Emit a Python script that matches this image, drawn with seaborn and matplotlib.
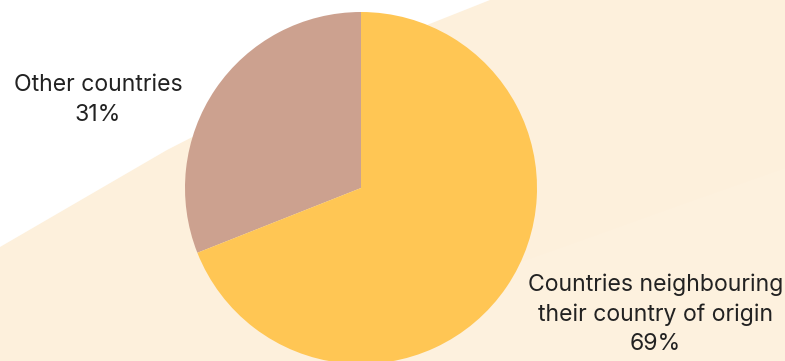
import matplotlib
matplotlib.use("Agg")
import matplotlib.pyplot as plt
from matplotlib.patches import Polygon
import seaborn as sns

# Share of refugees by host-country group
categories = ["Other countries", "Countries neighbouring\ntheir country of origin"]
shares = [31, 69]
colors = ["#CCA18F", "#FFC654"]

sns.set_theme(style="white")
plt.rcParams["font.family"] = ["Inter", "DejaVu Sans"]

W, H = 785, 361
fig = plt.figure(figsize=(W / 100, H / 100), dpi=100)
fig.patch.set_facecolor("white")
ax = fig.add_axes([0, 0, 1, 1])
ax.set_facecolor("white")


def px(x, y):
    """Pixel position (origin top-left) to axes data position."""
    return (x, H - y)


# Decorative cream band behind the chart
band = [px(0, 247), px(167, 150), px(300, 82), px(427, 25), px(490, 0),
        px(W, 0), px(W, H), px(0, H)]
ax.add_patch(Polygon(band, closed=True, facecolor="#FDF0DC", edgecolor="none", zorder=0))
inner = [px(360, H), px(420, 297), px(560, 248), px(680, 205), px(W, 168),
         px(W, H)]
ax.add_patch(Polygon(inner, closed=True, facecolor="#FDF1DE", edgecolor="none", zorder=0))

cx, cy = px(361, 188)
ax.pie(shares, colors=colors, startangle=90, counterclock=True,
       center=(cx, cy), radius=176,
       wedgeprops=dict(linewidth=0, edgecolor="none"), frame=False)

ax.set_xlim(0, W)
ax.set_ylim(0, H)
ax.set_aspect("equal")
ax.axis("off")

text_kw = dict(ha="center", va="center", color="#222222", fontsize=16.6,
               linespacing=1.42, zorder=5)
ax.text(*px(98, 100), f"{categories[0]}\n{shares[0]}%", **text_kw)
ax.text(*px(655.5, 314), f"{categories[1]}\n{shares[1]}%", **text_kw)

fig.savefig("out.png", dpi=100, facecolor="white")
